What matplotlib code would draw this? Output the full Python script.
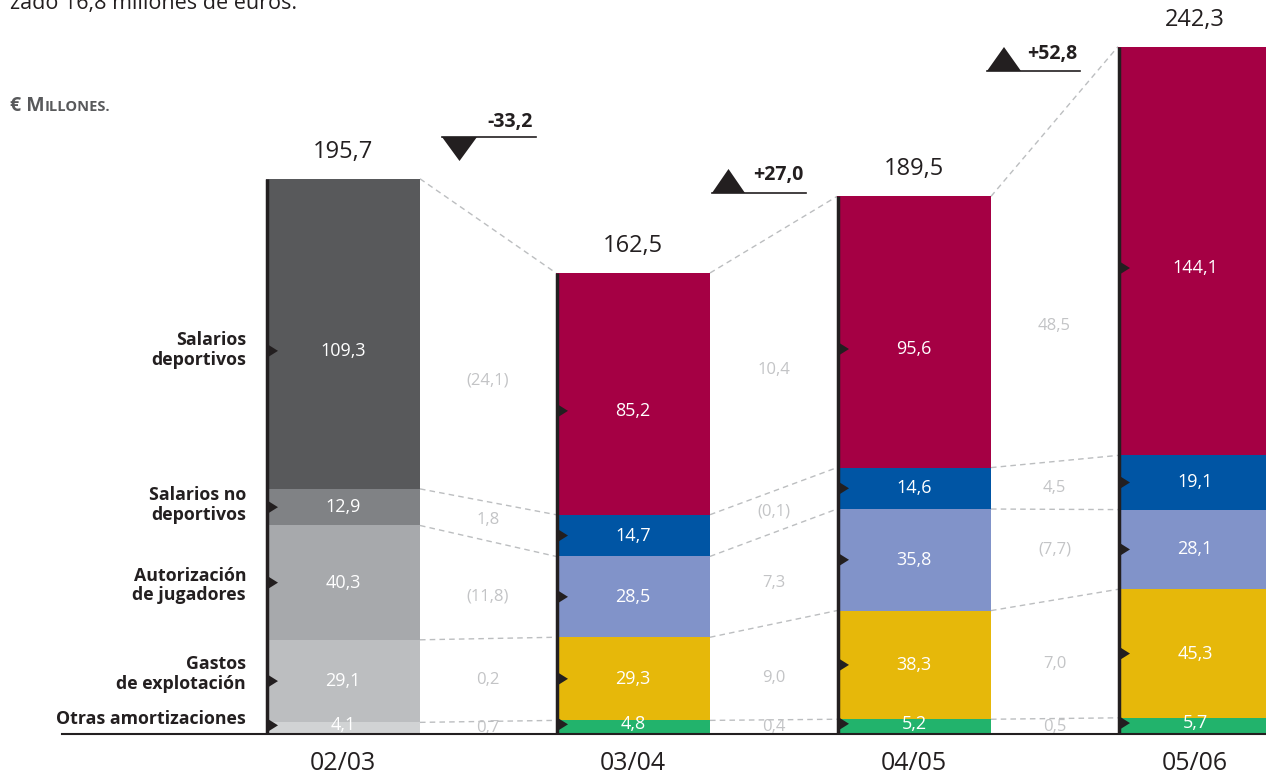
import numpy as np
import matplotlib
matplotlib.use("Agg")
import matplotlib.pyplot as plt

plt.rcParams['font.family'] = ['Open Sans', 'DejaVu Sans']

# datos (millones de euros), de abajo arriba
temporadas = ["02/03", "03/04", "04/05", "05/06"]
categorias = ["Otras amortizaciones", "Gastos\nde explotación", "Autorización\nde jugadores",
              "Salarios no\ndeportivos", "Salarios\ndeportivos"]
otras = [4.1, 4.8, 5.2, 5.7]
gastos = [29.1, 29.3, 38.3, 45.3]
autorizacion = [40.3, 28.5, 35.8, 28.1]
sal_no_dep = [12.9, 14.7, 14.6, 19.1]
sal_dep = [109.3, 85.2, 95.6, 144.1]
totales = [195.7, 162.5, 189.5, 242.3]

# colores: primera temporada en grises, el resto en color
grises = ["#d1d3d4", "#bcbec0", "#a7a9ac", "#808285", "#58595b"]
colores = ["#22b36c", "#e6b80a", "#8193c9", "#0055a4", "#a50044"]

DARK = "#231f20"
GREY_TXT = "#c3c4c6"
DASH = "#bcbec0"

def fmt(v):
    s = f"{abs(v):.1f}".replace(".", ",")
    return f"({s})" if v < 0 else s

segs = np.array([otras, gastos, autorizacion, sal_no_dep, sal_dep])  # (5, 4)
tops = np.cumsum(segs, axis=0)
bots = tops - segs

# escala: pixeles por millón, base en y=734
PX = 2.837
BASE = 734
W, H = 1266, 773

def py(p):
    """fila de pixel -> valor"""
    return (BASE - p) / PX

fig = plt.figure(figsize=(W / 100, H / 100), dpi=100)
ax = fig.add_axes([0, 0, 1, 1])
ax.set_xlim(0, W)
ax.set_ylim(py(H), py(0))
ax.axis('off')

lefts = [266, 556, 837, 1118]
width = 154
top_shift = 6.0  # la etiqueta del tramo superior va algo más baja

def label_y(k, i):
    mid = (bots[k, i] + tops[k, i]) / 2
    if k == len(categorias) - 1:
        mid -= top_shift
    if k == 0:
        mid += 1.0
    return mid

# barras apiladas
for i, l in enumerate(lefts):
    pal = grises if i == 0 else colores
    for k in range(len(categorias)):
        ax.bar(l, segs[k, i], width, bottom=bots[k, i], align='edge',
               color=pal[k], linewidth=0, zorder=2)
        m = label_y(k, i)
        ax.text(l + width / 2, m, fmt(segs[k, i]), color='white', fontsize=13,
                ha='center', va='center', zorder=4)
        ax.fill([l, l + 12, l], [m - 7.5 / PX, m, m + 7.5 / PX], color=DARK, lw=0, zorder=4)
    ax.plot([l + 1, l + 1], [0, totales[i]], color=DARK, lw=2.5,
            solid_capstyle='butt', zorder=3)
    ax.text(l + width / 2, totales[i] + 27 / PX, fmt(totales[i]), color=DARK,
            fontsize=17, ha='center', va='center')
    ax.text(l + width / 2, py(763), temporadas[i], color=DARK, fontsize=18,
            ha='center', va='center')

# líneas de conexión y variaciones
for i in range(len(lefts) - 1):
    x0 = lefts[i] + width
    x1 = lefts[i + 1]
    xc = (x0 + x1) / 2
    for k in range(len(categorias)):
        ax.plot([x0, x1], [tops[k, i], tops[k, i + 1]], color=DASH, lw=1,
                dashes=(4, 3), zorder=1)
        lo = max(bots[k, i], bots[k, i + 1])
        hi = min(tops[k, i], tops[k, i + 1])
        d = segs[k, i + 1] - segs[k, i]
        ax.text(xc, (lo + hi) / 2, fmt(d), color=GREY_TXT, fontsize=12,
                ha='center', va='center')

# variación total con triángulos
var_boxes = [
    # (x tri izq, x tri der, y base, y punta, x fin línea, y texto)
    (442, 477, 137, 161, 536, 122),
    (712, 745, 193, 169, 806, 175),
    (987, 1021, 71, 47, 1080, 54),
]
for i, (xa, xb, yb, yt, xe, yt_txt) in enumerate(var_boxes):
    d = totales[i + 1] - totales[i]
    ax.fill([xa, xb, (xa + xb) / 2], [py(yb), py(yb), py(yt)], color=DARK, lw=0)
    ax.plot([xa, xe], [py(yb), py(yb)], color=DARK, lw=1.2)
    s = f"{d:+.1f}".replace(".", ",")
    ax.text(xe - 3, py(yt_txt), s, color=DARK, fontsize=14, fontweight='bold',
            ha='right', va='center')

# rótulos de categorías (ajuste fino en pixeles, positivo = hacia abajo)
cat_dy = [-6, -7, 3, -2, -1]
for k, cat in enumerate(categorias):
    ax.text(246, label_y(k, 0) - cat_dy[k] / PX, cat, color=DARK, fontsize=12.8,
            fontweight='bold', ha='right', va='center', linespacing=1.1)

# línea base
ax.plot([62, W], [0, 0], color=DARK, lw=1.5, zorder=5)

# textos superiores
fig.text(10 / W, 1 - 9 / H, "zado 16,8 millones de euros.", color=DARK,
         fontsize=15.5, ha='left', va='baseline')
t1 = fig.text(10 / W, 1 - 111 / H, "€ M", color="#58595b", fontsize=14,
              fontweight='bold', ha='left', va='baseline')
fig.canvas.draw()
bb = t1.get_window_extent()
fig.text(bb.x1 / W, 1 - 111 / H, "ILLONES.", color="#58595b", fontsize=10.5,
         fontweight='bold', ha='left', va='baseline')

fig.savefig("out.png", dpi=100)
